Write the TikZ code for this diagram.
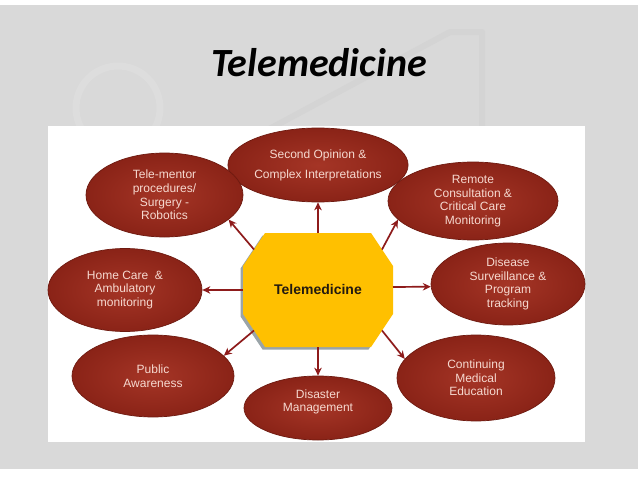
\documentclass[tikz,border=0pt]{standalone}
\usepackage{fontspec}
\setmainfont{Liberation Sans}
\newfontfamily\titlefont{Carlito}
\usetikzlibrary{arrows.meta,shapes.geometric}
\definecolor{slidegray}{HTML}{D9D9D9}
\definecolor{decolight}{HTML}{DDDDDD}
\definecolor{decodark}{HTML}{D4D4D4}
\definecolor{bubblein}{HTML}{A53526}
\definecolor{bubbleout}{HTML}{8A2317}
\definecolor{bubbleedge}{HTML}{6E1A10}
\definecolor{bubbletext}{HTML}{F6D9D0}
\definecolor{octgold}{HTML}{FFC000}
\definecolor{octshadow}{HTML}{9AA4A8}
\definecolor{octtext}{HTML}{231A10}
\definecolor{arrowred}{HTML}{8E1B1B}
\tikzset{
  bubble/.style={ellipse, draw=bubbleedge, line width=0.7pt,
    inner color=bubblein, outer color=bubbleout, inner sep=0pt},
  bubbletxt/.style={text=bubbletext, align=center, inner sep=0pt,
    font=\fontsize{12}{13.7}\selectfont},
  conn/.style={draw=arrowred, line width=1.7pt,
    -{Stealth[length=8pt,width=7.5pt]}},
}
\begin{document}
\begin{tikzpicture}[x=1pt,y=-1pt]
\useasboundingbox (0,0) rectangle (638,479);
\fill[white] (0,0) rectangle (638,479);
\fill[slidegray] (0,5) rectangle (638,469);
% faint watermark
\draw[decolight, line width=7pt] (118,108) circle (42);
\draw[decodark, line width=6pt, line join=round] (260,134) -- (450,32) -- (482,32) -- (482,160);
% title
\node[font=\titlefont\bfseries\itshape\fontsize{40}{48}\selectfont] (title) at (319,63) {Telemedicine};
% white panel
\fill[white] (48,126) rectangle (585,442);

% bubbles
\node[bubble, minimum width=156pt, minimum height=74pt, bubbletxt] (so) at (318,165)
  {Second Opinion \&\\[6.3pt]Complex Interpretations};
\node[bubble, minimum width=157pt, minimum height=84pt, bubbletxt] (tm) at (164.5,195)
  {Tele-mentor\\procedures/\\Surgery -\\Robotics};
\node[bubble, minimum width=170pt, minimum height=78pt, bubbletxt] (rc) at (473,201)
  {Remote\\Consultation \&\\Critical Care\\Monitoring};
\node[bubble, minimum width=154pt, minimum height=83pt, bubbletxt] (hc) at (125,290)
  {Home Care \ \&\\Ambulatory\\monitoring};
\node[bubble, minimum width=154pt, minimum height=82pt, bubbletxt] (ds) at (508,284)
  {Disease\\Surveillance \&\\Program\\tracking};
\node[bubble, minimum width=162pt, minimum height=82pt, bubbletxt] (pa) at (153,376)
  {Public\\Awareness};
\node[bubble, minimum width=148pt, minimum height=64pt] (da) at (318,408) {};
\node[bubbletxt, yshift=6pt] (dat) at (da.center) {Disaster\\Management};
\node[bubble, minimum width=158pt, minimum height=86pt, bubbletxt] (ce) at (476,378)
  {Continuing\\Medical\\Education};

% central octagon
\fill[octshadow] ([shift={(-2.5,2.5)}]265,233) -- ++(106,0) -- ++(22,33) -- ++(0,48)
  -- ++(-22,33) -- ++(-106,0) -- ++(-22,-33) -- ++(0,-48) -- cycle;
\fill[octgold] (265,233) -- (371,233) -- (393,266) -- (393,314) -- (371,347)
  -- (265,347) -- (243,314) -- (243,266) -- cycle;
\node[font=\bfseries\fontsize{14}{16}\selectfont, text=octtext] (oct) at (318,289) {Telemedicine};

\coordinate (oN) at (318,233);
\coordinate (oS) at (318,347);
\coordinate (oW) at (243,290);
\coordinate (oE) at (393,287);
\coordinate (oUL) at (254,249.5);
\coordinate (oUR) at (382,249.5);
\coordinate (oLL) at (254,330.5);
\coordinate (oLR) at (382,330.5);

% connectors
\draw[conn] (oN) -- (so.south);
\draw[conn] (oUL) -- (tm.-21);
\draw[conn] (oW) -- (hc.east);
\draw[conn] (oLL) -- (pa.16);
\draw[conn] (oS) -- (da.north);
\draw[conn] (oUR) -- (rc.194);
\draw[conn] (oE) -- (ds.182);
\draw[conn] (oLR) -- (ce.165);
\end{tikzpicture}
\end{document}
